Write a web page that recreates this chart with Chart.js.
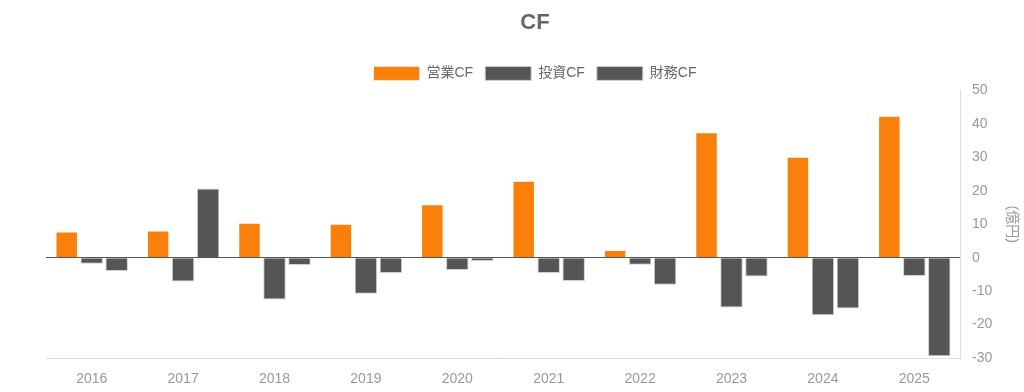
<!DOCTYPE html>
<html>
<head>
<meta charset="utf-8">
<script src="https://cdn.jsdelivr.net/npm/chart.js@4"></script>
<style>
  html, body { margin: 0; padding: 0; background: #fff; }
  #wrap { width: 1024px; height: 392px; }
</style>
</head>
<body>
<div id="wrap"><canvas id="cfChart"></canvas></div>
<script>
const years = ['2016', '2017', '2018', '2019', '2020', '2021', '2022', '2023', '2024', '2025'];
const operatingCF = [7.8, 8.1, 10.4, 10.1, 16.0, 23.0, 2.3, 37.5, 30.2, 42.4];
const investingCF = [-1.8, -7.1, -12.5, -10.8, -3.7, -4.6, -2.1, -14.9, -17.2, -5.5];
const financingCF = [-4.0, 20.7, -2.2, -4.6, -1.0, -7.0, -8.1, -5.6, -15.2, -29.5];

const fontFamily = '"Liberation Sans", Arial, "Noto Sans CJK JP", sans-serif';

document.addEventListener('DOMContentLoaded', () => {
  const ctx = document.getElementById('cfChart').getContext('2d');
  new Chart(ctx, {
    type: 'bar',
    data: {
      labels: years,
      datasets: [{
        label: '営業CF',
        data: operatingCF,
        backgroundColor: '#f9810b',
        borderColor: 'rgba(255,255,255,0.6)',
        borderWidth: 1
      }, {
        label: '投資CF',
        data: investingCF,
        backgroundColor: '#555555',
        borderColor: '#d0d0d0',
        borderWidth: 1
      }, {
        label: '財務CF',
        data: financingCF,
        backgroundColor: '#555555',
        borderColor: '#d0d0d0',
        borderWidth: 1
      }]
    },
    options: {
      responsive: true,
      maintainAspectRatio: false,
      animation: false,
      categoryPercentage: 0.82,
      barPercentage: 0.9,
      layout: {
        padding: { left: 46, right: 0, top: 6, bottom: 0 }
      },
      plugins: {
        title: {
          display: true,
          text: 'CF',
          color: '#666',
          font: { family: fontFamily, size: 22, weight: 'bold' },
          padding: { top: 4, bottom: 18 }
        },
        legend: {
          position: 'top',
          labels: {
            color: '#666',
            boxWidth: 46,
            boxHeight: 14,
            padding: 12,
            font: { family: fontFamily, size: 14 }
          }
        },
        tooltip: { enabled: false }
      },
      scales: {
        x: {
          grid: { display: false },
          border: { display: true, color: '#ddd' },
          ticks: {
            color: '#999',
            padding: 5,
            font: { family: fontFamily, size: 14 }
          },
          afterFit: (scale) => { scale.height = 34; }
        },
        y: {
          position: 'right',
          min: -30,
          max: 50,
          ticks: {
            stepSize: 10,
            color: '#999',
            padding: 12,
            font: { family: fontFamily, size: 14 }
          },
          grid: {
            drawTicks: false,
            color: (c) => (c.tick && c.tick.value === 0 ? '#555' : 'transparent'),
            lineWidth: 1
          },
          border: { display: true, color: '#ddd' },
          title: {
            display: true,
            text: '(億円)',
            color: '#999',
            font: { family: fontFamily, size: 14 },
            padding: { top: 4, bottom: 0 }
          },
          afterFit: (scale) => { scale.width = 64; }
        }
      }
    }
  });
});
</script>
</body>
</html>
